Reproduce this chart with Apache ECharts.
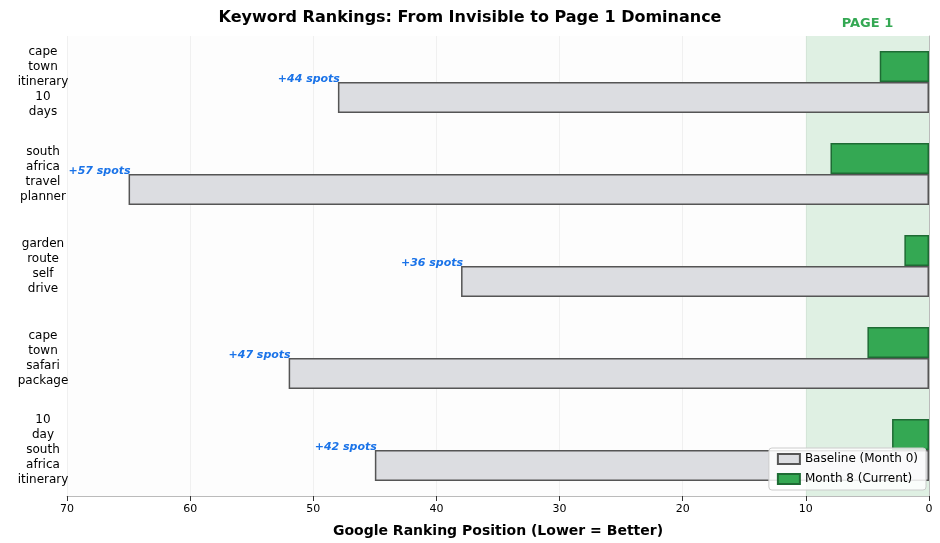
<!DOCTYPE html>
<html><head><meta charset="utf-8">
<script src="https://cdn.jsdelivr.net/npm/echarts@6/dist/echarts.min.js"></script>
<style>html,body{margin:0;padding:0;background:#fff}#c{width:940px;height:543px}</style>
</head><body><div id="c"></div>
<script>
const categories = ["10\nday\nsouth\nafrica\nitinerary","cape\ntown\nsafari\npackage","garden\nroute\nself\ndrive","south\nafrica\ntravel\nplanner","cape\ntown\nitinerary\n10\ndays"];
const baseline = [45, 52, 38, 65, 48];
const current = [3, 5, 2, 8, 4];
const chart = echarts.init(document.getElementById('c'));
chart.setOption({
  animation:false,
  title:{text:'Keyword Rankings: From Invisible to Page 1 Dominance',left:'center',top:5,textStyle:{fontSize:16,fontWeight:'bold',color:'#000',fontFamily:'DejaVu Sans'}},
  grid:{left:67,right:11,top:36,bottom:46,show:true,backgroundColor:'#fdfdfd',borderWidth:0},
  legend:{right:14,bottom:53,orient:'vertical',icon:'rect',itemWidth:22,itemHeight:10,backgroundColor:'rgba(255,255,255,0.85)',borderColor:'#ccc',borderWidth:1,borderRadius:3,padding:[5,8],textStyle:{fontSize:12,fontFamily:'DejaVu Sans',color:'#000'},data:['Baseline (Month 0)','Month 8 (Current)']},
  xAxis:{type:'value',min:0,max:70,interval:10,inverse:true,
    name:'Google Ranking Position (Lower = Better)',nameLocation:'middle',nameGap:28,
    nameTextStyle:{fontSize:14,fontWeight:'bold',color:'#000',fontFamily:'DejaVu Sans'},
    axisLine:{show:true,lineStyle:{color:'#bbb'}},axisTick:{show:true,lineStyle:{color:'#333'}},
    axisLabel:{color:'#000',fontSize:11,fontFamily:'DejaVu Sans'},
    splitLine:{show:true,lineStyle:{color:'#f0f0f0'}}},
  yAxis:{type:'category',data:categories,
    axisLine:{show:true,lineStyle:{color:'#bbb'}},axisTick:{show:true,alignWithLabel:true,lineStyle:{color:'#333'}},
    axisLabel:{color:'#000',fontSize:12,lineHeight:15,align:'center',margin:24,fontFamily:'DejaVu Sans'},
    splitLine:{show:false}},
  series:[
    {name:'Month 8 (Current)',type:'bar',data:current,barWidth:31,barGap:'0%',
     itemStyle:{color:'#34a853',borderColor:'#1e6b34',borderWidth:1.5},
     markArea:{silent:true,itemStyle:{color:'rgba(52,168,83,0.15)'},
       label:{show:true,position:'top',distance:6,color:'#34a853',fontWeight:'bold',fontSize:13,fontFamily:'DejaVu Sans'},
       data:[[{name:'PAGE 1',xAxis:10},{xAxis:0}]]}},
    {name:'Baseline (Month 0)',type:'bar',data:baseline,barWidth:31,
     itemStyle:{color:'#dcdde1',borderColor:'#555',borderWidth:1.5},
     label:{show:true,position:'left',distance:-2,offset:[0,-18],fontStyle:'italic',fontWeight:'bold',fontSize:11,color:'#1a73e8',fontFamily:'DejaVu Sans',
       formatter:p=>'+'+(baseline[p.dataIndex]-current[p.dataIndex])+' spots'}}
  ]
});
</script></body></html>
